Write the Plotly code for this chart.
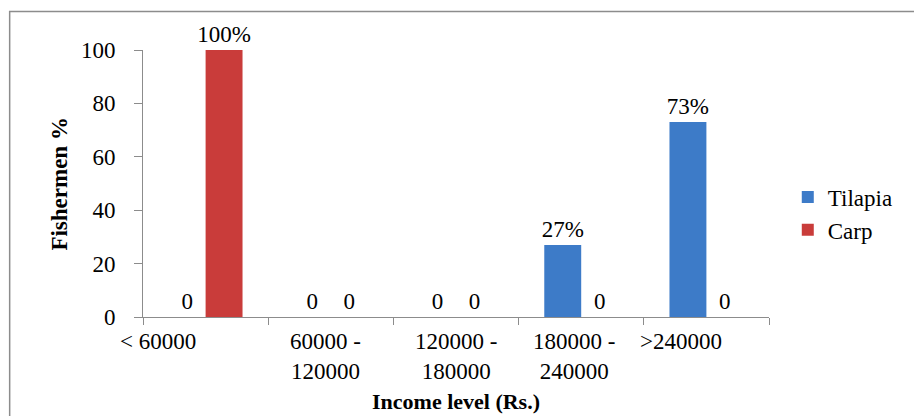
import plotly.graph_objects as go

# Income classes and share of fishermen (%) per fish type
categories = ["< 60000", "60000 -<br>120000", "120000 -<br>180000",
              "180000 -<br>240000", ">240000"]
tilapia = [0, 0, 0, 27, 73]
carp = [100, 0, 0, 0, 0]

# horizontal nudges (px) applied to the category captions
label_shift = [-48, -5, 0, -7, -25]

FONT = "Liberation Serif"
SIZE = 23


def labels(vals):
    return [f"{v}%" if v else "0" for v in vals]


fig = go.Figure()
fig.add_bar(name="Tilapia", x=categories, y=tilapia, text=labels(tilapia),
            textposition="outside", cliponaxis=False, constraintext="none",
            marker=dict(color="#3D7BC8", line=dict(width=0)),
            textfont=dict(family=FONT, size=SIZE, color="#000"))
fig.add_bar(name="Carp", x=categories, y=carp, text=labels(carp),
            textposition="outside", cliponaxis=False, constraintext="none",
            marker=dict(color="#C93C3A", line=dict(width=0)),
            textfont=dict(family=FONT, size=SIZE, color="#000"))

# category captions under the x axis
annotations = [
    dict(x=c, y=0, xref="x", yref="y", text=c, showarrow=False,
         xanchor="center", yanchor="top", yshift=-10, xshift=s,
         font=dict(family=FONT, size=SIZE, color="#000"), align="center")
    for c, s in zip(categories, label_shift)
]
annotations.append(dict(x=0.5, y=-0.315, xref="paper", yref="paper",
                        text="<b>Income level (Rs.)</b>", showarrow=False,
                        xanchor="center", yanchor="middle",
                        font=dict(family=FONT, size=22, color="#000")))
annotations.append(dict(x=-0.134, y=0.5, xref="paper", yref="paper",
                        text="<b>Fishermen %</b>", showarrow=False,
                        textangle=-90, xanchor="center", yanchor="middle",
                        font=dict(family=FONT, size=SIZE, color="#000")))

fig.update_layout(
    width=914, height=416,
    margin=dict(l=143, r=145, t=50, b=99),
    paper_bgcolor="white", plot_bgcolor="white",
    barmode="group", bargap=0.41, bargroupgap=0,
    font=dict(family=FONT, size=SIZE, color="#000"),
    showlegend=True,
    legend=dict(x=1.03, y=0.53, xanchor="left", yanchor="top",
                font=dict(family=FONT, size=SIZE, color="#000"),
                bgcolor="rgba(0,0,0,0)", itemwidth=30, tracegroupgap=0),
    annotations=annotations,
    shapes=[dict(type="rect", xref="paper", yref="paper",
                 x0=-0.213, x1=1.24, y0=-0.4, y1=1.144,
                 line=dict(color="#8C8C8C", width=1.5),
                 fillcolor="rgba(0,0,0,0)", layer="below")],
)
fig.update_xaxes(type="category", range=[-0.5, 4.5], showticklabels=False,
                 tickson="boundaries", ticks="outside", ticklen=7,
                 tickcolor="#8C8C8C", showline=True, linecolor="#8C8C8C",
                 linewidth=1, showgrid=False, zeroline=False)
fig.update_yaxes(range=[0, 100], dtick=20, ticks="outside", ticklen=8,
                 tickcolor="#8C8C8C", showline=True, linecolor="#8C8C8C",
                 linewidth=1, showgrid=False, zeroline=False,
                 ticklabelstandoff=14,
                 tickfont=dict(family=FONT, size=SIZE, color="#000"))

fig.write_html("out.html")
